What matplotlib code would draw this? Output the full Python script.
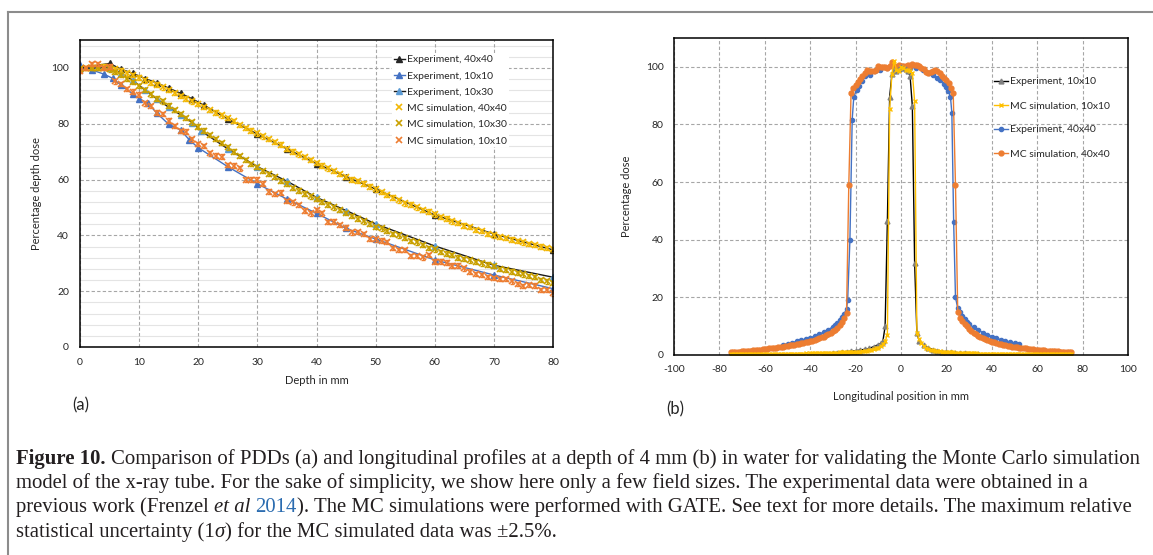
import numpy as np
import matplotlib
matplotlib.use('Agg')
import matplotlib.pyplot as plt
from matplotlib.lines import Line2D

W, H = 1153, 555

# ---------------- panel (a): PDD data ----------------
depth_exp_40x40 = [0, 5, 7, 9, 11, 13, 15, 17, 19, 21, 25, 30, 35, 40, 45, 50, 60, 70, 80]
pdd_exp_40x40 = [100.0, 101.6, 99.5, 98.0, 96.2, 94.6, 92.8, 90.9, 88.9, 86.6, 81.7, 76.3,
                 71.0, 65.7, 61.0, 56.6, 47.3, 40.5, 34.8]

depth_exp_10x10 = [0, 2, 4, 5.5, 7, 9, 10, 11.5, 13, 15, 17, 18.5, 20, 25, 30, 35, 40, 45, 50, 60, 70, 80]
pdd_exp_10x10 = [101.0, 99.3, 97.8, 96.3, 93.7, 90.6, 89.0, 87.3, 83.8, 79.8, 77.8, 74.2, 71.4,
                 64.6, 58.5, 53.0, 47.9, 42.5, 38.7, 31.2, 25.8, 20.9]

depth_exp_10x30 = [0, 5, 7, 9, 11, 13, 15, 17, 19, 20.5, 25, 30, 35, 40, 45, 50, 60, 70, 80]
pdd_exp_10x30 = [100.0, 100.0, 98.0, 95.5, 92.0, 88.9, 85.9, 83.2, 80.4, 77.4, 71.0, 64.6,
                 59.4, 53.6, 48.9, 44.1, 36.2, 29.3, 25.0]

depth_mc = np.arange(0, 81)
pdd_mc_40x40 = [99.5, 100.0, 100.0, 100.0, 100.5, 100.0, 99.5, 99.0, 98.0, 97.5,
                96.5, 95.5, 94.5, 94.0, 93.0, 92.0, 91.0, 90.0, 89.0, 88.0,
                87.0, 86.0, 85.0, 84.0, 83.0, 82.0, 81.0, 79.5, 78.5, 77.5,
                76.5, 75.5, 74.5, 73.5, 72.5, 71.0, 70.0, 69.0, 68.0, 67.0,
                66.0, 65.0, 64.0, 63.0, 62.0, 61.0, 60.0, 59.5, 58.5, 57.5,
                56.5, 55.5, 54.5, 53.5, 52.5, 51.5, 51.0, 50.0, 49.0, 48.5,
                47.5, 46.5, 46.0, 45.0, 44.5, 43.5, 43.0, 42.0, 41.5, 40.5,
                40.0, 39.5, 39.0, 38.5, 38.0, 37.5, 37.0, 36.5, 36.0, 35.5, 35.0]
pdd_mc_10x30 = [99.5, 100.0, 100.0, 100.0, 100.0, 99.5, 98.5, 97.5, 96.0, 95.0,
                93.5, 92.0, 90.5, 89.0, 88.0, 86.5, 85.0, 83.5, 82.0, 80.5,
                79.0, 77.5, 76.0, 74.5, 73.0, 71.5, 70.0, 68.5, 67.0, 65.5,
                64.5, 63.0, 62.0, 61.0, 59.5, 58.5, 57.0, 56.0, 55.0, 54.0,
                53.0, 52.0, 51.0, 50.0, 49.0, 48.0, 47.0, 46.0, 45.0, 44.0,
                43.0, 42.5, 41.5, 40.5, 40.0, 39.0, 38.0, 37.5, 36.5, 35.5,
                35.0, 34.0, 33.5, 33.0, 32.0, 31.5, 31.0, 30.5, 30.0, 29.5,
                29.0, 28.0, 27.5, 27.0, 26.5, 26.0, 25.5, 25.0, 24.0, 23.5, 23.0]
pdd_mc_10x10 = [99.0, 100.0, 101.4, 101.4, 100.0, 100.5, 95.2, 94.3, 92.4, 91.5,
                90.4, 87.3, 86.4, 84.0, 83.4, 81.1, 79.2, 77.4, 77.2, 74.4,
                72.8, 72.0, 69.4, 68.6, 68.2, 65.2, 65.0, 64.0, 60.0, 60.0,
                60.0, 58.5, 55.7, 54.8, 55.3, 52.3, 51.8, 50.9, 48.9, 47.9,
                49.1, 47.9, 44.7, 44.9, 43.7, 42.8, 41.1, 41.3, 40.5, 38.7,
                38.6, 38.1, 37.6, 35.4, 34.8, 34.8, 32.7, 32.7, 32.1, 33.0,
                30.6, 30.6, 30.2, 29.2, 29.2, 28.2, 27.0, 26.2, 25.8, 25.0,
                24.7, 24.4, 24.3, 23.5, 22.6, 21.9, 22.2, 22.0, 20.5, 20.5, 19.2]

# ---------------- panel (b): lateral profiles ----------------
pos_exp_10x10 = [-34, -32, -30, -28, -26, -24, -22, -20, -18, -16, -14, -12, -10, -9, -8,
                 -7, -6, -5, -4, -3, -2, -1, 0, 1, 2, 3, 4, 5, 6, 7, 8,
                 10, 12, 14, 16, 18, 20, 22, 24, 26, 28, 30, 32, 34]
dose_exp_10x10 = [0.4, 0.5, 0.6, 0.8, 0.9, 1.1, 1.3, 1.5, 1.7, 2.0, 2.3, 2.9, 3.6, 4.0, 4.7,
                  9.9, 46.5, 89.6, 97.5, 99.0, 98.6, 99.3, 100.0, 99.7, 99.2, 98.5, 96.8, 86.4, 32.0, 7.5, 5.0,
                  3.3, 2.5, 1.9, 1.5, 1.2, 1.0, 0.9, 0.8, 0.7, 0.6, 0.5, 0.4, 0.3]

pos_mc = np.arange(-75, 76)
dose_mc_10x10 = [0.2, 0.3, 0.2, 0.3, 0.3, 0.2, 0.3, 0.3, 0.3, 0.2,
                 0.3, 0.3, 0.3, 0.4, 0.3, 0.3, 0.4, 0.3, 0.4, 0.4,
                 0.4, 0.4, 0.4, 0.5, 0.4, 0.4, 0.5, 0.5, 0.4, 0.5,
                 0.5, 0.5, 0.5, 0.6, 0.5, 0.6, 0.6, 0.6, 0.6, 0.7,
                 0.7, 0.7, 0.7, 0.8, 0.7, 0.8, 0.8, 0.8, 0.9, 0.9,
                 0.9, 1.0, 1.0, 1.0, 1.1, 1.1, 1.2, 1.2, 1.3, 1.4,
                 1.5, 1.7, 1.8, 2.0, 2.3, 2.6, 3.1, 3.7, 4.7, 7.0,
                 85.5, 97.5, 102.0, 99.0, 98.6, 100.0, 99.5, 99.0, 98.8, 98.5, 98.0,
                 88.0, 7.8, 5.5, 4.3, 3.2, 2.6, 2.2, 1.9, 1.7, 1.5,
                 1.4, 1.3, 1.2, 1.1, 1.0, 1.0, 0.9, 0.9, 0.8, 0.8,
                 0.8, 0.7, 0.7, 0.7, 0.6, 0.6, 0.6, 0.6, 0.5, 0.5,
                 0.5, 0.5, 0.5, 0.5, 0.4, 0.4, 0.4, 0.4, 0.4, 0.4,
                 0.4, 0.3, 0.4, 0.3, 0.3, 0.3, 0.3, 0.3, 0.3, 0.3,
                 0.3, 0.3, 0.2, 0.3, 0.3, 0.3, 0.2, 0.3, 0.2, 0.2,
                 0.2, 0.2, 0.3, 0.2, 0.2, 0.2, 0.2, 0.2, 0.2, 0.2]

pos_exp_40x40 = [-52, -50, -48, -46, -44, -42, -40, -38, -36, -34, -32, -30, -29, -28, -27, -26,
                 -25, -24, -23.5, -22.5, -21.5, -20.8, -19.6, -18.6, -17.2, -15.7, -13.5, -11.3,
                 -9.2, -6.3, -2.6, 1, 3.9, 6.8, 9.7, 12.3, 14.1, 15.9, 17.3, 18.8, 19.9, 20.9,
                 21.8, 22.4, 23.2, 24, 25, 26, 27, 28, 29, 30, 32, 34, 36, 38, 40, 42, 44, 46,
                 48, 50, 52]
dose_exp_40x40 = [3.6, 3.9, 4.3, 4.7, 5.1, 5.5, 6.0, 6.5, 7.2, 8.0, 8.8, 9.8, 10.4, 11.2, 12.0, 13.2,
                  14.3, 16.0, 19.0, 40.0, 81.7, 89.6, 91.9, 93.3, 95.0, 96.8, 97.3, 98.5,
                  98.8, 99.7, 100.0, 100.2, 99.7, 99.7, 99.0, 97.9, 97.1, 96.2, 95.3, 93.9, 92.9, 91.6,
                  89.5, 84.0, 46.0, 20.0, 16.2, 14.8, 13.5, 12.4, 11.5, 10.7, 9.6, 8.7, 7.8, 7.1, 6.4,
                  5.8, 5.3, 4.8, 4.4, 4.0, 3.7]

dose_mc_40x40 = [1.0, 1.0, 1.1, 1.1, 1.2, 1.3, 1.3, 1.4, 1.5, 1.5,
                 1.6, 1.7, 1.8, 1.9, 2.0, 2.1, 2.2, 2.3, 2.4, 2.5,
                 2.6, 2.7, 2.8, 2.9, 3.0, 3.2, 3.3, 3.5, 3.6, 3.8,
                 3.9, 4.1, 4.3, 4.4, 4.6, 4.8, 5.0, 5.2, 5.5, 5.8,
                 6.1, 6.4, 6.8, 7.2, 7.7, 8.2, 8.8, 9.5, 10.4, 11.5,
                 12.7, 14.5, 59.0, 91.0, 92.7, 93.6, 94.8, 95.6, 96.8, 97.9,
                 98.8, 98.6, 98.5, 98.6, 98.8, 100.2, 100.0, 99.9, 99.8, 99.7,
                 100.2, 101.7, 100.2, 100.0, 100.5, 100.3, 100.2, 100.3, 100.5, 100.4, 101.0,
                 100.8, 100.5, 100.2, 99.7, 99.2, 98.3, 97.9, 98.3, 98.7, 99.0,
                 98.5, 97.9, 96.8, 96.0, 95.4, 94.5, 92.7, 91.0, 59.0, 14.8,
                 13.0, 11.8, 10.8, 9.9, 9.1, 8.4, 7.8, 7.2, 6.7, 6.3,
                 5.9, 5.5, 5.2, 4.9, 4.6, 4.4, 4.1, 3.9, 3.7, 3.5,
                 3.3, 3.2, 3.0, 2.9, 2.8, 2.7, 2.6, 2.5, 2.4, 2.3,
                 2.2, 2.1, 2.0, 1.9, 1.8, 1.8, 1.7, 1.6, 1.5, 1.5,
                 1.4, 1.4, 1.3, 1.3, 1.2, 1.2, 1.1, 1.1, 1.0, 1.0]

# colours (Excel palette)
c_black = '#1a1a1a'
c_blue = '#4472C4'
c_lblue = '#5B9BD5'
c_gold = '#F2B705'
c_dgold = '#C9A000'
c_orange = '#ED7D31'
c_yellow = '#FFC000'
c_grid = '#A6A6A6'
c_text = '#262626'

plt.rcParams['font.family'] = 'Lato'
plt.rcParams['axes.unicode_minus'] = False

fig = plt.figure(figsize=(W / 100, H / 100), dpi=100)


def px_axes(left, top, right, bottom):
    return fig.add_axes([left / W, 1 - bottom / H, (right - left) / W, (bottom - top) / H])


def style_axes(ax, pad):
    for s in ax.spines.values():
        s.set_color('#000000')
        s.set_linewidth(1.1)
    ax.tick_params(length=0, labelsize=7.5, pad=pad, colors=c_text)
    ax.set_axisbelow(True)


def place_labels(ax, xl, yl, xy_x, xy_y):
    ax.set_xlabel(xl, fontsize=8, color=c_text)
    ax.set_ylabel(yl, fontsize=8, color=c_text)
    ax.xaxis.set_label_coords(*xy_x)
    ax.yaxis.set_label_coords(*xy_y)
    ax.xaxis.label.set_verticalalignment('center')
    ax.yaxis.label.set_verticalalignment('center')


# ---------------- panel (a) ----------------
ax1 = px_axes(80, 40, 553, 347)
style_axes(ax1, 8)
ax1.set_xlim(0, 80)
ax1.set_ylim(0, 110)
ax1.set_xticks(range(0, 81, 10))
ax1.set_yticks(range(0, 101, 20))
for yv in range(4, 110, 4):
    if yv % 20:
        ax1.axhline(yv, color='#E4E4E4', lw=0.8, zorder=0)
ax1.grid(True, which='major', color=c_grid, ls=(0, (3, 2)), lw=0.8)

h_a = []
h_a.append(ax1.plot(depth_exp_40x40, pdd_exp_40x40, color=c_black, lw=1.0, marker='^', ms=5,
                    mfc='#262626', mec='#262626', label='Experiment, 40x40')[0])
h_a.append(ax1.plot(depth_exp_10x10, pdd_exp_10x10, color=c_blue, lw=1.0, marker='^', ms=5,
                    mfc=c_blue, mec=c_blue, label='Experiment, 10x10')[0])
h_a.append(ax1.plot(depth_exp_10x30, pdd_exp_10x30, color=c_black, lw=1.0, marker='^', ms=5,
                    mfc=c_lblue, mec=c_lblue, label='Experiment, 10x30')[0])
for yy, col, lab in [(pdd_mc_40x40, c_gold, 'MC simulation, 40x40'),
                     (pdd_mc_10x30, c_dgold, 'MC simulation, 10x30'),
                     (pdd_mc_10x10, c_orange, 'MC simulation, 10x10')]:
    ax1.errorbar(depth_mc, yy, yerr=0.8, fmt='none', ecolor=col, elinewidth=0.8, capsize=1.5)
    h_a.append(ax1.plot(depth_mc, yy, ls='none', marker='x', ms=4, mew=1.2, color=col, label=lab)[0])

leg_a = ax1.legend(handles=h_a, loc='upper left', bbox_to_anchor=((392 - 80) / 473, 1 - (53 - 40) / 307),
                   frameon=True, fancybox=False, edgecolor='none', facecolor='white', framealpha=1,
                   fontsize=7.5, handlelength=1.0, handletextpad=0.2, labelspacing=0.66,
                   borderpad=0.2, borderaxespad=0)
for t in leg_a.get_texts():
    t.set_color(c_text)

place_labels(ax1, 'Depth in mm', 'Percentage depth dose',
             (0.5, (347 - 380) / 307), ((37 - 80) / 473, 0.5))

# ---------------- panel (b) ----------------
ax2 = px_axes(674, 38, 1128, 355)
style_axes(ax2, 7.5)
ax2.set_xlim(-100, 100)
ax2.set_ylim(0, 110)
ax2.set_xticks(range(-100, 101, 20))
ax2.set_yticks(range(0, 101, 20))
ax2.grid(True, which='major', color=c_grid, ls=(0, (3, 2)), lw=0.8)

hb_e40 = ax2.plot(pos_exp_40x40, dose_exp_40x40, color=c_blue, lw=1.0, marker='o', ms=3,
                  label='Experiment, 40x40')[0]
hb_m40 = ax2.plot(pos_mc, dose_mc_40x40, color=c_orange, lw=1.0, marker='o', ms=3.5,
                  label='MC simulation, 40x40')[0]
hb_e10 = ax2.plot(pos_exp_10x10, dose_exp_10x10, color='#000000', lw=1.0, marker='^', ms=3.5,
                  mfc='#7F7F7F', mec='#7F7F7F', label='Experiment, 10x10')[0]
hb_m10 = ax2.plot(pos_mc, dose_mc_10x10, color=c_yellow, lw=1.0, marker='x', ms=3.5, mew=1.0,
                  label='MC simulation, 10x10')[0]

leg_b = ax2.legend(handles=[hb_e10, hb_m10, hb_e40, hb_m40], loc='upper left',
                   bbox_to_anchor=((994 - 674) / 454, 1 - (77 - 38) / 317),
                   frameon=False, fontsize=7.5, handlelength=1.3, handletextpad=0.2,
                   labelspacing=1.42, borderpad=0, borderaxespad=0)
for t in leg_b.get_texts():
    t.set_color(c_text)

place_labels(ax2, 'Longitudinal position in mm', 'Percentage dose',
             (0.5, (355 - 396) / 317), ((627 - 674) / 454, 0.5))

fig.text(72 / W, 1 - 405 / H, '(a)', fontsize=12, color=c_text, va='center', ha='left')
fig.text(666 / W, 1 - 409 / H, '(b)', fontsize=12, color=c_text, va='center', ha='left')

# frame around the figure
fig.add_artist(Line2D([8 / W, 1], [1 - 12 / H, 1 - 12 / H], transform=fig.transFigure,
                      color='#8C8C8C', lw=1.5))
fig.add_artist(Line2D([8 / W, 8 / W], [1 - 12 / H, 0], transform=fig.transFigure,
                      color='#8C8C8C', lw=1.5))

# ---------------- caption ----------------
renderer = fig.canvas.get_renderer()
cap_font = 'Liberation Serif'
cap_color = '#231F20'
link_color = '#2B6CB0'

line1 = [('Figure 10.', {'weight': 'bold'}, False),
         ('Comparison of PDDs (a) and longitudinal profiles at a depth of 4 mm (b) in water for '
          'validating the Monte Carlo simulation', {}, True)]
line2 = [('model of the x-ray tube. For the sake of simplicity, we show here only a few field '
          'sizes. The experimental data were obtained in a', {}, False)]
line3 = [('previous work (Frenzel', {}, False), ('et al', {'style': 'italic'}, True),
         ('2014', {'color': link_color}, True),
         ('). The MC simulations were performed with GATE. See text for more details. '
          'The maximum relative', {}, False)]
line4 = [('statistical uncertainty (1', {}, False), ('σ', {'style': 'italic'}, False),
         (') for the MC simulated data was ±2.5%.', {}, False)]


def measure(txt, size, **kw):
    t = fig.text(0, 0, txt, fontsize=size, family=cap_font, **kw)
    w = t.get_window_extent(renderer).width
    t.remove()
    return w


base = 12.0
w1 = measure(line1[0][0], base, weight='bold') + measure(line1[1][0], base) + \
    measure('a a', base) - measure('aa', base)
cap_size = base * 1124 / w1
space_w = measure('a a', cap_size) - measure('aa', cap_size)

x0 = 16
for pieces, yc in [(line1, 459), (line2, 483), (line3, 507), (line4, 532)]:
    x = x0
    for txt, kw, sp in pieces:
        if sp:
            x += space_w
        kw = dict(kw)
        col = kw.pop('color', cap_color)
        t = fig.text(x / W, 1 - (yc + 5) / H, txt, fontsize=cap_size, family=cap_font,
                     color=col, va='baseline', ha='left', **kw)
        x += t.get_window_extent(renderer).width

fig.savefig('out.png', dpi=100)
